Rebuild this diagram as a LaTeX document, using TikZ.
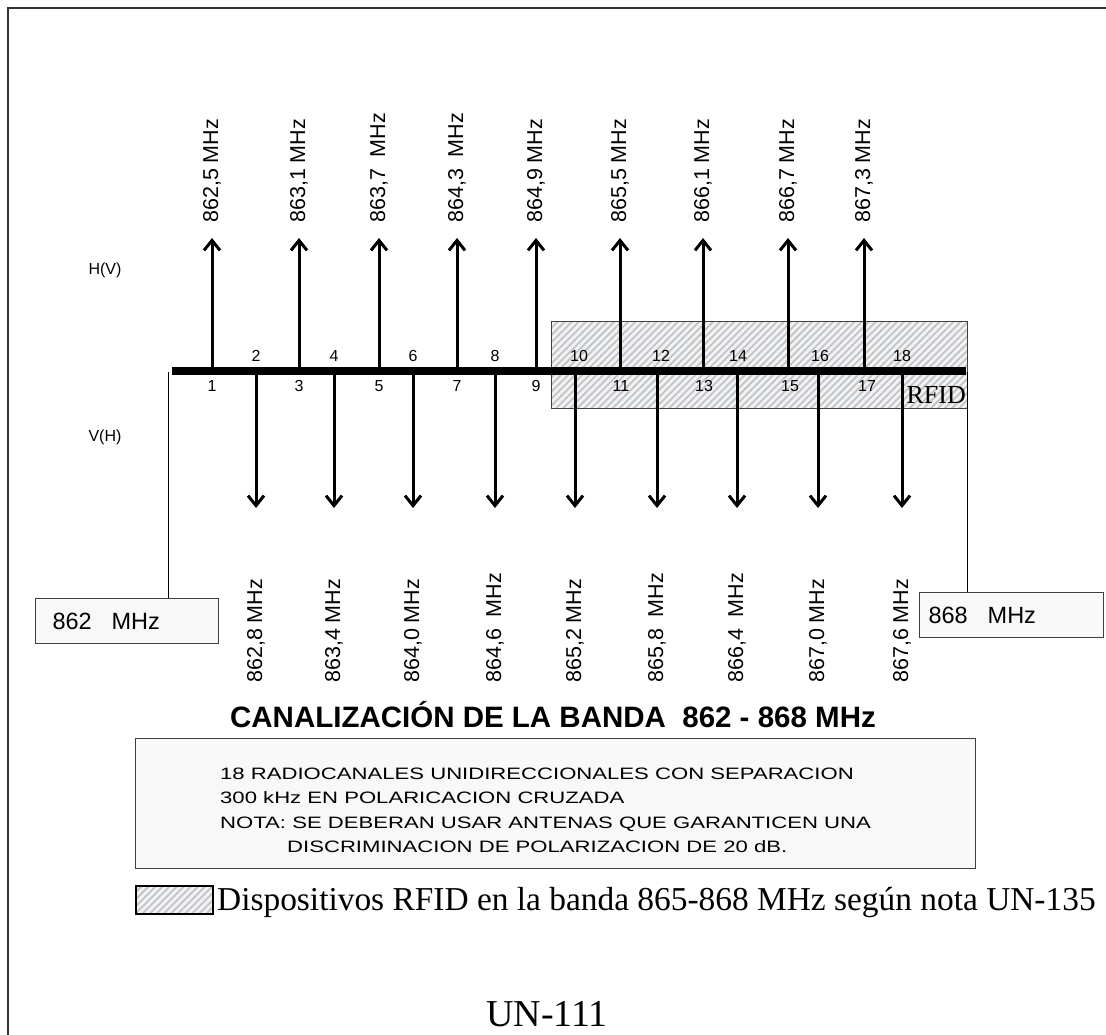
\documentclass[tikz,border=0pt]{standalone}
\usepackage{fontspec}
\setmainfont{Liberation Serif}
\setsansfont{Liberation Sans}
\newfontfamily\widesans[FakeStretch=1.34]{Liberation Sans}
\usetikzlibrary{arrows.meta,patterns.meta}

\definecolor{boxfill}{HTML}{F8F8F8}
\definecolor{hatchbg}{HTML}{F2F2F2}
\definecolor{hatchln}{HTML}{C0C4C8}
\definecolor{edgegray}{HTML}{404040}

\begin{document}
\begin{tikzpicture}[x=1pt, y=-1pt]
        \tikzset{
            chan/.style = {line width=3pt, -{Straight Barb[length=10pt, width=16pt]}},
            num/.style = {font=\sffamily\fontsize{16}{16}\selectfont, inner sep=0pt},
            freq/.style = {font=\sffamily\fontsize{21.5}{21.5}\selectfont, rotate=90, anchor=west, inner sep=0pt},
            fbox/.style = {draw=edgegray, fill=boxfill, line width=1pt},
            hatch/.style = {draw=edgegray, line width=1pt, preaction={fill=hatchbg},
                pattern={Lines[angle=45, distance=5pt, line width=1.8pt]}, pattern color=hatchln},
            note/.style = {font=\widesans\fontsize{16.5}{16.5}\selectfont, anchor=base west, inner sep=0pt}
        }
        \useasboundingbox (0,0) rectangle (1106,1035);

        % frame
        \draw[line width=2.5pt, black!80] (8,1035) -- (8,8) -- (1106,8);

        % RFID band
        \node[hatch, anchor=north west, minimum width=416, minimum height=87] (rfid) at (551,321) {};
        \node[font=\fontsize{26}{26}\selectfont, anchor=base east, inner sep=0pt] (rfidlbl) at (966,403) {RFID};

        \coordinate (bl) at (172,371);
        \coordinate (br) at (966,371);

        \node[num] (hv) at (105,270) {H(V)};
        \node[num] (vh) at (105,437) {V(H)};

        % channels on the bar and arrow tips
        \coordinate (c1) at (212,367);  \coordinate (t1) at (212,238);
        \coordinate (c3) at (299,367);  \coordinate (t3) at (299,238);
        \coordinate (c5) at (379,367);  \coordinate (t5) at (379,238);
        \coordinate (c7) at (457,367);  \coordinate (t7) at (457,238);
        \coordinate (c9) at (536,367);  \coordinate (t9) at (536,238);
        \coordinate (c11) at (620,367); \coordinate (t11) at (620,238);
        \coordinate (c13) at (703,367); \coordinate (t13) at (703,238);
        \coordinate (c15) at (788,367); \coordinate (t15) at (788,238);
        \coordinate (c17) at (864,367); \coordinate (t17) at (864,238);

        \coordinate (c2) at (256,375);  \coordinate (t2) at (256,508);
        \coordinate (c4) at (334,375);  \coordinate (t4) at (334,508);
        \coordinate (c6) at (413,375);  \coordinate (t6) at (413,508);
        \coordinate (c8) at (495,375);  \coordinate (t8) at (495,508);
        \coordinate (c10) at (575,375); \coordinate (t10) at (575,508);
        \coordinate (c12) at (657,375); \coordinate (t12) at (657,508);
        \coordinate (c14) at (737,375); \coordinate (t14) at (737,508);
        \coordinate (c16) at (818,375); \coordinate (t16) at (818,508);
        \coordinate (c18) at (902,375); \coordinate (t18) at (902,508);

        % channel numbers
        \node[num] (n1) at (212,386) {1};
        \node[num] (n3) at (299,386) {3};
        \node[num] (n5) at (379,386) {5};
        \node[num] (n7) at (457,386) {7};
        \node[num] (n9) at (536,386) {9};
        \node[num] (n11) at (621,386) {11};
        \node[num] (n13) at (704,386) {13};
        \node[num] (n15) at (790,386) {15};
        \node[num] (n17) at (867,386) {17};

        \node[num] (n2) at (256,356) {2};
        \node[num] (n4) at (334,356) {4};
        \node[num] (n6) at (413,356) {6};
        \node[num] (n8) at (495,356) {8};
        \node[num] (n10) at (579,356) {10};
        \node[num] (n12) at (661,356) {12};
        \node[num] (n14) at (738,356) {14};
        \node[num] (n16) at (820,356) {16};
        \node[num] (n18) at (902,356) {18};

        % frequencies
        \node[freq] (f1) at (212,223) {862,5 MHz};
        \node[freq] (f3) at (299,223) {863,1 MHz};
        \node[freq] (f5) at (379,223) {863,7\ \ MHz};
        \node[freq] (f7) at (457,223) {864,3\ \ MHz};
        \node[freq] (f9) at (536,223) {864,9 MHz};
        \node[freq] (f11) at (620,223) {865,5 MHz};
        \node[freq] (f13) at (703,223) {866,1 MHz};
        \node[freq] (f15) at (788,223) {866,7 MHz};
        \node[freq] (f17) at (864,223) {867,3 MHz};

        \node[freq] (f2) at (256,683) {862,8 MHz};
        \node[freq] (f4) at (334,683) {863,4 MHz};
        \node[freq] (f6) at (413,683) {864,0 MHz};
        \node[freq] (f8) at (495,683) {864,6\ \ MHz};
        \node[freq] (f10) at (575,683) {865,2 MHz};
        \node[freq] (f12) at (657,683) {865,8\ \ MHz};
        \node[freq] (f14) at (737,683) {866,4\ \ MHz};
        \node[freq] (f16) at (818,683) {867,0 MHz};
        \node[freq] (f18) at (902,683) {867,6 MHz};

        % band edges
        \node[fbox, anchor=north west, minimum width=183, minimum height=45, inner xsep=17pt,
            text width=149pt, align=left, font=\sffamily\fontsize{23.5}{23.5}\selectfont] (lo) at (35,598) {862\hspace{0.85em}MHz};
        \node[fbox, anchor=north west, minimum width=184, minimum height=45, inner xsep=9pt,
            text width=166pt, align=left, font=\sffamily\fontsize{23.5}{23.5}\selectfont] (hi) at (919,592) {868\hspace{0.85em}MHz};
        \coordinate (le) at (168,372);
        \coordinate (re) at (967,372);

        \draw[line width=1pt] (le) -- (le |- lo.north);
        \draw[line width=1pt] (re) -- (re |- hi.north);

        \draw[line width=8pt] (bl) -- (br);

        \draw[chan] (c1) -- (t1);
        \draw[chan] (c3) -- (t3);
        \draw[chan] (c5) -- (t5);
        \draw[chan] (c7) -- (t7);
        \draw[chan] (c9) -- (t9);
        \draw[chan] (c11) -- (t11);
        \draw[chan] (c13) -- (t13);
        \draw[chan] (c15) -- (t15);
        \draw[chan] (c17) -- (t17);

        \draw[chan] (c2) -- (t2);
        \draw[chan] (c4) -- (t4);
        \draw[chan] (c6) -- (t6);
        \draw[chan] (c8) -- (t8);
        \draw[chan] (c10) -- (t10);
        \draw[chan] (c12) -- (t12);
        \draw[chan] (c14) -- (t14);
        \draw[chan] (c16) -- (t16);
        \draw[chan] (c18) -- (t18);

        % title and notes
        \node[font=\sffamily\bfseries\fontsize{29.5}{29.5}\selectfont, anchor=base, inner sep=0pt] (title) at (553,727)
            {CANALIZACIÓN DE LA BANDA\ \ 862 - 868 MHz};

        \node[fbox, anchor=north west, minimum width=840, minimum height=130] (notes) at (135,738) {};
        \node[note] (l1) at (220,779) {18 RADIOCANALES UNIDIRECCIONALES CON SEPARACION};
        \node[note] (l2) at (220,803) {300 kHz EN POLARICACION CRUZADA};
        \node[note] (l3) at (220,828) {NOTA: SE DEBERAN USAR ANTENAS QUE GARANTICEN UNA};
        \node[note] (l4) at (287,852) {DISCRIMINACION DE POLARIZACION DE 20 dB.};

        \node[hatch, line width=1.5pt, draw=black, anchor=north west, minimum width=77, minimum height=28] (key) at (135,885) {};
        \node[font=\fontsize{33.4}{33.4}\selectfont, anchor=base west, inner sep=0pt] (keytxt) at (217,910)
            {Dispositivos RFID en la banda 865-868 MHz según nota UN-135};

        \node[font=\fontsize{38}{38}\selectfont, anchor=base, inner sep=0pt] (un) at (547,1026) {UN-111};

    \end{tikzpicture}
\end{document}
